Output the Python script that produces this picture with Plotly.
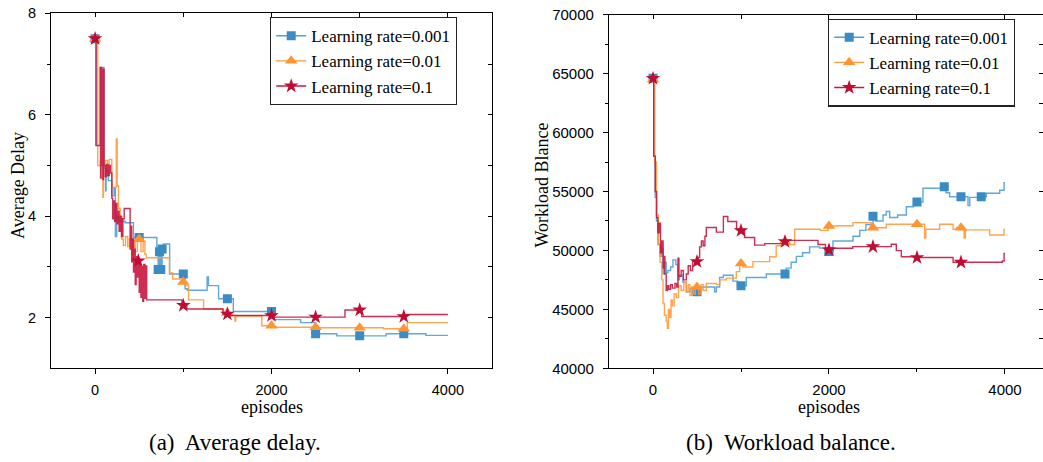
import plotly.graph_objects as go

# ---------------- Panel (a): average delay vs. episodes ----------------
delay_ep_lr001 = [0, 11, 62, 100, 118, 125, 150, 189, 215, 230, 245, 265, 340, 435, 700, 715, 730,
                  745, 760, 775, 845, 1020, 1045, 1270, 1285, 1400, 1567, 2030, 2330, 2500, 2740,
                  3300, 3750, 4000]
delay_val_lr001 = [7.5, 5.4, 6.93, 4.95, 4.5, 4.9, 4.7, 4.4, 4.55, 3.6, 4.0, 3.9, 3.87, 3.58, 3.35,
                   2.95, 3.3, 2.95, 3.35, 3.45, 2.86, 2.57, 2.54, 2.8, 2.63, 2.37, 2.12, 1.96, 1.9,
                   1.68, 1.64, 1.68, 1.65, 1.65]

delay_ep_lr01 = [0, 30, 60, 88, 95, 113, 140, 160, 189, 240, 250, 265, 285, 300, 320, 345, 370, 390,
                 420, 440, 455, 480, 520, 545, 565, 580, 843, 880, 985, 1020, 1060, 1230, 1450, 1530,
                 1585, 1595, 1890, 2030, 2520, 3270, 3540, 4000]
delay_val_lr01 = [7.5, 5.0, 5.08, 4.37, 5.0, 5.1, 5.02, 5.12, 4.57, 5.52, 4.6, 4.15, 3.95, 3.55, 3.42,
                  3.6, 3.4, 3.55, 3.25, 3.5, 3.3, 3.55, 3.3, 3.5, 3.25, 3.18, 2.88, 2.76, 2.7, 2.63,
                  2.35, 2.17, 2.09, 2.04, 1.93, 2.03, 1.84, 1.81, 1.8, 1.78, 1.9, 1.9]

delay_ep_lr1 = [0, 11, 57, 62, 68, 74, 80, 88, 95, 102, 115, 130, 145, 160, 175, 190, 200, 210, 222,
                235, 248, 260, 272, 285, 300, 315, 330, 397, 405, 415, 425, 435, 445, 455, 465, 475,
                488, 500, 510, 520, 530, 540, 550, 565, 575, 585, 985, 1040, 1450, 1520, 2030, 2833,
                3022, 3520, 4000]
delay_val_lr1 = [7.5, 5.39, 6.93, 4.75, 6.93, 5.0, 6.9, 4.72, 6.9, 5.0, 4.78, 5.02, 4.8, 5.0, 4.85,
                 4.35, 3.95, 4.3, 3.9, 4.25, 3.85, 4.1, 3.7, 4.0, 3.6, 3.95, 4.15, 3.35, 3.8, 3.1,
                 3.55, 2.9, 3.35, 2.65, 3.2, 2.8, 3.12, 2.5, 3.05, 2.4, 3.0, 2.32, 3.05, 2.38, 3.02,
                 2.35, 2.24, 2.17, 2.07, 2.04, 2.01, 2.15, 2.02, 2.06, 2.06]

delay_marks_lr001 = [0, 500, 715, 730, 745, 760, 1000, 1500, 2000, 2500, 3000, 3500]
delay_marks_lr01 = [0, 500, 1000, 1500, 2000, 2500, 3000, 3500]
delay_marks_lr1 = [0, 490, 1000, 1500, 2000, 2500, 3000, 3500]

# ---------------- Panel (b): workload balance vs. episodes ----------------
load_ep_lr001 = [0, 8, 25, 40, 57, 80, 100, 114, 130, 150, 170, 200, 227, 260, 284, 300, 340, 379,
                 420, 450, 500, 530, 700, 720, 757, 800, 909, 960, 1060, 1288, 1515, 1570, 1629,
                 1700, 1780, 1894, 1960, 1990, 2045, 2273, 2350, 2420, 2500, 2530, 2614, 2650, 2690,
                 2780, 2879, 2960, 3068, 3290, 3330, 3371, 3580, 3600, 3700, 3788, 3940, 3990, 4000]
load_val_lr001 = [64600, 58000, 54500, 52500, 50500, 49500, 50200, 48000, 49000, 48100, 48300,
                  48600, 49200, 48800, 47500, 47900, 47300, 46500, 46800, 46300, 46500, 46900,
                  46500, 46900, 47700, 47900, 47400, 47000, 47700, 48000, 48500, 49000, 49500,
                  49800, 50300, 50200, 49600, 49900, 50800, 51200, 51700, 52200, 52900, 52500,
                  53000, 53300, 52800, 53000, 53700, 54100, 55270, 55410, 54900, 54560, 53800,
                  54500, 54560, 54850, 55100, 55750, 55750]

load_ep_lr01 = [0, 20, 40, 60, 80, 100, 114, 130, 150, 163, 175, 190, 205, 220, 240, 265, 290, 320,
                350, 379, 400, 420, 440, 460, 480, 500, 520, 545, 570, 606, 720, 760, 833, 947, 985,
                1023, 1136, 1326, 1400, 1477, 1515, 1610, 1900, 1990, 2100, 2273, 2480, 2652, 3087,
                3100, 3258, 3410, 3450, 3535, 3550, 3826, 3990, 4000]
load_val_lr01 = [64500, 57500, 53000, 50500, 49000, 47500, 45500, 44500, 44000, 43400, 45000,
                 44300, 45800, 45300, 46300, 46000, 47000, 46600, 47300, 46500, 47100, 46200,
                 46900, 46300, 47000, 46900, 46300, 47100, 46600, 47200, 47100, 47500, 47650,
                 48200, 48900, 48600, 49050, 49470, 50400, 50750, 50500, 51800, 51700, 52070,
                 52100, 52360, 51930, 52220, 51050, 51800, 52220, 51800, 51930, 51050, 51740,
                 51310, 51790, 51790]

load_ep_lr1 = [0, 8, 25, 40, 55, 70, 85, 100, 115, 125, 135, 150, 165, 180, 200, 220, 250, 270, 284,
               295, 320, 345, 379, 400, 425, 450, 475, 492, 510, 530, 550, 570, 590, 606, 720, 800,
               850, 950, 1000, 1040, 1155, 1270, 1500, 1510, 1875, 1960, 2010, 2270, 2708, 2765,
               2822, 2990, 3410, 3580, 3970, 3990, 4000]
load_val_lr1 = [64600, 58000, 55000, 52800, 51500, 52300, 49800, 50800, 48500, 49500, 48000,
                46600, 47000, 46700, 47100, 46800, 47200, 46900, 49340, 47800, 48300, 47500,
                48000, 48700, 48300, 49100, 48800, 49050, 49400, 50300, 50800, 50400, 51200,
                51950, 51550, 52880, 52450, 51800, 51680, 51100, 50450, 50580, 50750, 50850,
                50500, 50050, 50180, 50320, 50520, 49980, 49470, 49400, 49000, 49000, 49100,
                49750, 49750]

load_marks_lr001 = [0, 500, 1000, 1500, 2000, 2500, 3000, 3310, 3500, 3730]
load_marks_lr01 = [0, 500, 1000, 1500, 2000, 2500, 3000, 3500]
load_marks_lr1 = [0, 500, 1000, 1500, 2000, 2500, 3000, 3500]

series_names = ["Learning rate=0.001", "Learning rate=0.01", "Learning rate=0.1"]
line_colors = ["#4f9fd6", "#ff9b3d", "#c8173f"]
marker_colors = ["#3b8bc4", "#ff9433", "#c00c32"]
marker_symbols = ["square", "triangle-up", "star"]
marker_sizes = [9, 11, 11]

W, H = 1043, 462


def value_at(eps, vals, e):
    """Value of a step curve (held until the next point) at episode e."""
    v = vals[0]
    for x, y in zip(eps, vals):
        if x <= e:
            v = y
        else:
            break
    return v


fig = go.Figure()

panels = [
    ("x", "y", "legend",
     [(delay_ep_lr001, delay_val_lr001, delay_marks_lr001),
      (delay_ep_lr01, delay_val_lr01, delay_marks_lr01),
      (delay_ep_lr1, delay_val_lr1, delay_marks_lr1)]),
    ("x2", "y2", "legend2",
     [(load_ep_lr001, load_val_lr001, load_marks_lr001),
      (load_ep_lr01, load_val_lr01, load_marks_lr01),
      (load_ep_lr1, load_val_lr1, load_marks_lr1)]),
]

for xa, ya, leg, curves in panels:
    for i, (eps, vals, marks) in enumerate(curves):
        fig.add_trace(go.Scatter(
            x=eps, y=vals, mode="lines", line=dict(color=line_colors[i], width=1.4, shape="hv"),
            opacity=0.9, xaxis=xa, yaxis=ya, showlegend=False, hoverinfo="skip"))
        fig.add_trace(go.Scatter(
            x=marks, y=[value_at(eps, vals, m) for m in marks], mode="markers",
            marker=dict(symbol=marker_symbols[i], size=marker_sizes[i], color=marker_colors[i],
                        line=dict(width=0)),
            xaxis=xa, yaxis=ya, showlegend=False, hoverinfo="skip"))
    for i in range(3):
        fig.add_trace(go.Scatter(
            x=[None], y=[None], mode="lines+markers", name=series_names[i],
            line=dict(color=line_colors[i], width=1.4),
            marker=dict(symbol=marker_symbols[i], size=marker_sizes[i], color=marker_colors[i]),
            xaxis=xa, yaxis=ya, legend=leg))

# empty traces that carry the inward-ticked top/right frame axes
for xa, ya in [("x3", "y"), ("x", "y3"), ("x4", "y2"), ("x2", "y4")]:
    fig.add_trace(go.Scatter(x=[None], y=[None], xaxis=xa, yaxis=ya, showlegend=False,
                             hoverinfo="skip"))

sans = "Liberation Sans"
serif = "Liberation Serif"
tick_font_a = dict(family=sans, size=14.5, color="black")
tick_font_b = dict(family=sans, size=15, color="black")

common = dict(showgrid=False, zeroline=False, showline=True, linecolor="black", linewidth=1.2,
              mirror=True, ticks="outside", ticklen=5, tickwidth=1.2, tickcolor="black",
              fixedrange=True, automargin=False)

xa_dom = [51 / W, 492 / W]
ya_dom = [1 - 368.3 / H, 1 - 13.3 / H]
xb_dom = [609 / W, 1.0]
yb_dom = [1 - 368.3 / H, 1 - 14.7 / H]
xb_range = [-500, 4432]

legend_style = dict(xanchor="left", yanchor="top", bgcolor="white", bordercolor="#222",
                    borderwidth=1.2, font=dict(family=serif, size=17, color="black"),
                    tracegroupgap=0, itemwidth=30)

frame = dict(showgrid=False, zeroline=False, showline=False, showticklabels=False,
             ticks="inside", ticklen=4, tickcolor="black", fixedrange=True, automargin=False)

fig.update_layout(
    width=W, height=H, margin=dict(l=0, r=0, t=0, b=0, pad=0, autoexpand=False),
    paper_bgcolor="white", plot_bgcolor="white",
    xaxis=dict(domain=xa_dom, anchor="y", range=[-500, 4500], tickvals=[0, 2000, 4000],
               tickfont=tick_font_a, ticklabelstandoff=3,
               minor=dict(tickvals=[1000, 3000], ticks="outside", ticklen=3, tickcolor="black"),
               **common),
    yaxis=dict(domain=ya_dom, anchor="x", range=[1, 8], tickvals=[2, 4, 6, 8],
               tickfont=tick_font_a, ticklabelstandoff=6,
               minor=dict(tickvals=[3, 5, 7], ticks="outside", ticklen=3, tickcolor="black"),
               **common),
    xaxis3=dict(overlaying="x", anchor="y", side="top", range=[-500, 4500],
                tickvals=[0, 1000, 2000, 3000, 4000], **frame),
    yaxis3=dict(overlaying="y", anchor="x", side="right", range=[1, 8],
                tickvals=[2, 3, 4, 5, 6, 7], **frame),
    xaxis2=dict(domain=xb_dom, anchor="y2", range=xb_range, tickvals=[0, 2000, 4000],
                tickfont=tick_font_b, ticklabelstandoff=3,
                minor=dict(tickvals=[1000, 3000], ticks="outside", ticklen=3, tickcolor="black"),
                **common),
    yaxis2=dict(domain=yb_dom, anchor="x2", range=[40000, 70000], tickformat="d",
                tickvals=[40000, 45000, 50000, 55000, 60000, 65000, 70000],
                tickfont=tick_font_b, ticklabelstandoff=6,
                minor=dict(tickvals=[42500, 47500, 52500, 57500, 62500, 67500], ticks="outside",
                           ticklen=3, tickcolor="black"),
                **common),
    xaxis4=dict(overlaying="x2", anchor="y2", side="top", range=xb_range,
                tickvals=[0, 1000, 2000, 3000, 4000], **frame),
    yaxis4=dict(overlaying="y2", anchor="x2", side="right", range=[40000, 70000],
                tickvals=[42500, 45000, 47500, 50000, 55000, 60000, 62500, 65000, 67500],
                **frame),
    legend=dict(x=270 / W, y=1 - 17 / H, **legend_style),
    legend2=dict(x=828 / W, y=1 - 18.5 / H, **legend_style),
    showlegend=True,
)

label_font = dict(family=serif, size=18, color="black")
caption_font = dict(family=serif, size=23, color="black")
annotations = [
    dict(text="episodes", x=271.5 / W, y=1 - 407 / H, font=label_font),
    dict(text="episodes", x=829 / W, y=1 - 407 / H, font=label_font),
    dict(text="Average Delay", x=18 / W, y=1 - 186 / H, textangle=-90, font=label_font),
    dict(text="Workload Blance", x=541.5 / W, y=1 - 185 / H, textangle=-90, font=label_font),
    dict(text="(a)  Average delay.", x=235 / W, y=1 - 442 / H, font=caption_font),
    dict(text="(b)  Workload balance.", x=791 / W, y=1 - 442 / H, font=caption_font),
]
for a in annotations:
    fig.add_annotation(xref="paper", yref="paper", xanchor="center", yanchor="middle",
                       showarrow=False, **a)

fig.write_html("out.html")
